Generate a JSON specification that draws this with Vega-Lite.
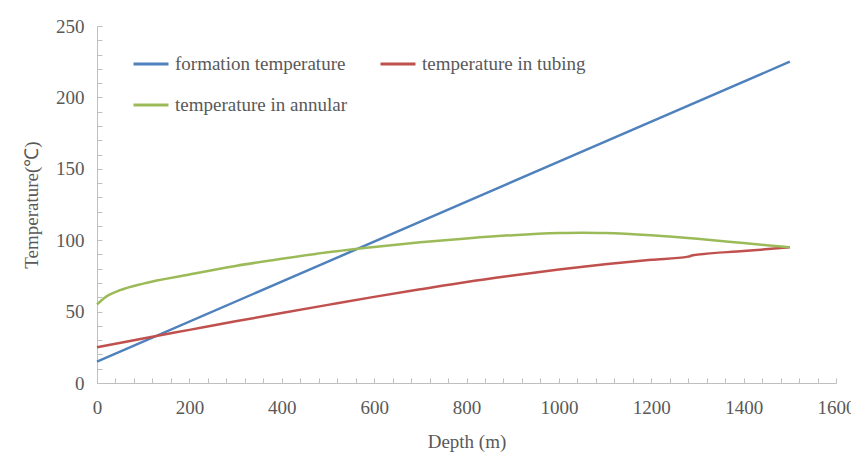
{
  "$schema": "https://vega.github.io/schema/vega-lite/v6.json",
  "width": 739,
  "height": 357,
  "autosize": {"type": "none"},
  "padding": {"left": 97, "top": 26, "right": 15, "bottom": 77},
  "background": "white",
  "config": {
    "view": {"stroke": null},
    "font": "Liberation Serif",
    "axis": {
      "grid": false,
      "domainColor": "#bfbfbf",
      "tickColor": "#bfbfbf",
      "tickSize": -5,
      "labelFont": "Liberation Serif",
      "labelFontSize": 19,
      "labelColor": "#595959",
      "titleFont": "Liberation Serif",
      "titleFontSize": 19,
      "titleFontWeight": "normal",
      "titleColor": "#595959",
      "labelOverlap": false,
      "labelFlush": false
    }
  },
  "data": {
    "values": [
      {"depth": 0, "temp": 15, "series": "formation temperature"},
      {"depth": 500, "temp": 85, "series": "formation temperature"},
      {"depth": 1000, "temp": 155, "series": "formation temperature"},
      {"depth": 1500, "temp": 225, "series": "formation temperature"},

      {"depth": 0, "temp": 25, "series": "temperature in tubing"},
      {"depth": 100, "temp": 31.2, "series": "temperature in tubing"},
      {"depth": 200, "temp": 37.2, "series": "temperature in tubing"},
      {"depth": 300, "temp": 43.2, "series": "temperature in tubing"},
      {"depth": 400, "temp": 49, "series": "temperature in tubing"},
      {"depth": 500, "temp": 54.7, "series": "temperature in tubing"},
      {"depth": 600, "temp": 60.3, "series": "temperature in tubing"},
      {"depth": 700, "temp": 65.6, "series": "temperature in tubing"},
      {"depth": 800, "temp": 70.8, "series": "temperature in tubing"},
      {"depth": 900, "temp": 75.3, "series": "temperature in tubing"},
      {"depth": 1000, "temp": 79.5, "series": "temperature in tubing"},
      {"depth": 1100, "temp": 83.2, "series": "temperature in tubing"},
      {"depth": 1200, "temp": 86.3, "series": "temperature in tubing"},
      {"depth": 1280, "temp": 88.5, "series": "temperature in tubing"},
      {"depth": 1290, "temp": 89.4, "series": "temperature in tubing"},
      {"depth": 1400, "temp": 92.4, "series": "temperature in tubing"},
      {"depth": 1500, "temp": 95, "series": "temperature in tubing"},

      {"depth": 0, "temp": 55, "series": "temperature in annular"},
      {"depth": 10, "temp": 58, "series": "temperature in annular"},
      {"depth": 25, "temp": 61.5, "series": "temperature in annular"},
      {"depth": 50, "temp": 65, "series": "temperature in annular"},
      {"depth": 100, "temp": 69.6, "series": "temperature in annular"},
      {"depth": 200, "temp": 76, "series": "temperature in annular"},
      {"depth": 300, "temp": 82, "series": "temperature in annular"},
      {"depth": 400, "temp": 87, "series": "temperature in annular"},
      {"depth": 500, "temp": 91.5, "series": "temperature in annular"},
      {"depth": 600, "temp": 95.2, "series": "temperature in annular"},
      {"depth": 700, "temp": 98.5, "series": "temperature in annular"},
      {"depth": 800, "temp": 101.2, "series": "temperature in annular"},
      {"depth": 900, "temp": 103.5, "series": "temperature in annular"},
      {"depth": 1000, "temp": 105, "series": "temperature in annular"},
      {"depth": 1050, "temp": 105.3, "series": "temperature in annular"},
      {"depth": 1100, "temp": 105, "series": "temperature in annular"},
      {"depth": 1200, "temp": 103.4, "series": "temperature in annular"},
      {"depth": 1300, "temp": 101, "series": "temperature in annular"},
      {"depth": 1400, "temp": 98, "series": "temperature in annular"},
      {"depth": 1500, "temp": 95, "series": "temperature in annular"}
    ]
  },
  "mark": {"type": "line", "strokeWidth": 2.5, "interpolate": "monotone"},
  "encoding": {
    "x": {
      "field": "depth",
      "type": "quantitative",
      "scale": {"domain": [0, 1600], "nice": false},
      "axis": {
        "title": "Depth (m)",
        "values": [0,40,80,120,160,200,240,280,320,360,400,440,480,520,560,600,640,680,720,760,800,840,880,920,960,1000,1040,1080,1120,1160,1200,1240,1280,1320,1360,1400,1440,1480,1520,1560,1600],
        "labelExpr": "datum.value % 200 === 0 ? datum.label : ''",
        "format": "d",
        "labelPadding": 20,
        "titlePadding": 15
      }
    },
    "y": {
      "field": "temp",
      "type": "quantitative",
      "scale": {"domain": [0, 250], "nice": false},
      "axis": {
        "title": "Temperature(℃)",
        "values": [0,10,20,30,40,50,60,70,80,90,100,110,120,130,140,150,160,170,180,190,200,210,220,230,240,250],
        "labelExpr": "datum.value % 50 === 0 ? datum.label : ''",
        "labelPadding": 18,
        "titlePadding": 14
      }
    },
    "color": {
      "field": "series",
      "type": "nominal",
      "scale": {
        "domain": ["formation temperature", "temperature in tubing", "temperature in annular"],
        "range": ["#4F81BD", "#C0504D", "#9BBB59"]
      },
      "legend": {
        "title": null,
        "orient": "none",
        "legendX": 35,
        "legendY": 19,
        "direction": "horizontal",
        "columns": 2,
        "columnPadding": 27,
        "rowPadding": 12,
        "symbolType": "stroke",
        "symbolSize": 1225,
        "symbolStrokeWidth": 3,
        "labelFont": "Liberation Serif",
        "labelFontSize": 19,
        "labelColor": "#595959",
        "labelLimit": 300,
        "labelOffset": 5
      }
    }
  }
}
